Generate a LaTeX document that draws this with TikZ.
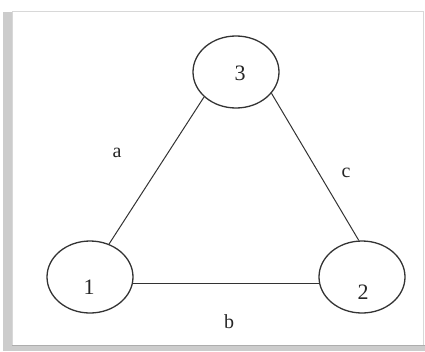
\documentclass[tikz,border=0pt]{standalone}
\usepackage{fontspec}
\setmainfont{Liberation Serif}
\usetikzlibrary{shapes.geometric,patterns}
\definecolor{edgegray}{HTML}{333333}
\definecolor{framegray}{HTML}{D8D8D8}
\definecolor{shadegray}{HTML}{CCCCCC}
\tikzset{
  vertex/.style={ellipse, draw=edgegray, line width=1.3pt, minimum width=86pt, minimum height=72pt, inner sep=0pt},
  num/.style={font=\fontsize{22}{24}\selectfont, text=black!85},
  lab/.style={font=\fontsize{20}{22}\selectfont, text=black!85},
  edge/.style={draw=edgegray, line width=1pt}
}
\begin{document}
\begin{tikzpicture}[x=1pt,y=-1pt]
\useasboundingbox (0,0) rectangle (425,351);
\fill[white] (0,0) rectangle (425,351);
% shadow strips
\fill[shadegray] (3,12) rectangle (12,351);
\fill[shadegray] (3,345) rectangle (425,351);
% frame
\draw[framegray, line width=1pt] (12,345) -- (12,11) -- (423,11) -- (423,345);
\draw[framegray!80!black, line width=0.8pt] (12,345) -- (425,345);
% vertices
\node[vertex] (n3) at (236,72) {};
\node[vertex] (n1) at (90,277) {};
\node[vertex] (n2) at (362,277) {};
\node[num] (t3) at (240,73) {3};
\node[num] (t1) at (89,287) {1};
\node[num] (t2) at (363,292) {2};
% edges
\draw[edge] (n3.218) -- (n1.60);
\draw[edge] (n3.329) -- (n2.95);
\draw[edge, line width=1.4pt] (n1.-9) -- (n2.189);
% labels
\node[lab] (la) at (117,153) {a};
\node[lab] (lc) at (346,173) {c};
\node[lab] (lb) at (229,322) {b};
\end{tikzpicture}
\end{document}
